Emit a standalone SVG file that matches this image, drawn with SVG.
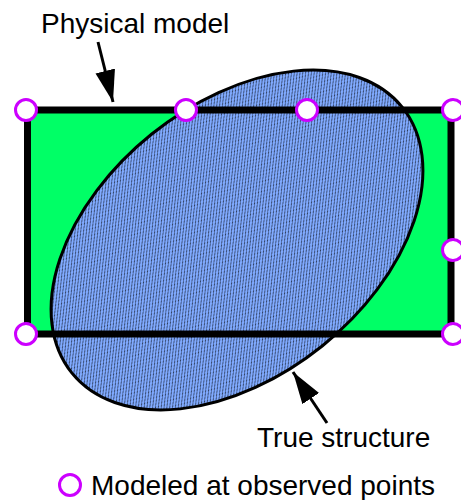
<svg xmlns="http://www.w3.org/2000/svg" width="461" height="500" viewBox="0 0 461 500">
<style>
.lbl{font-family:"Liberation Sans",Arial,sans-serif;font-size:28px;fill:#000}
.pt{fill:#fff;stroke:#cc00ff;stroke-width:3}
.conn{stroke:#000;stroke-width:3;fill:none}
</style>
<defs>
<pattern id="hatch" width="4" height="4" patternUnits="userSpaceOnUse">
<rect width="4" height="4" fill="#80aaff"/>
<path d="M-4,4 L0,0 M0,4 L4,0 M4,4 L8,0" stroke="#000" stroke-width="0.65" fill="none"/>
</pattern>
<marker id="ah" markerUnits="userSpaceOnUse" markerWidth="34" markerHeight="22" refX="32" refY="10" orient="auto">
<path d="M0,0 L32,10 L0,20 Z" fill="#000"/>
</marker>
</defs>
<g id="physical-model-fill">
<rect x="27.5" y="110" width="423.5" height="224" fill="#00ff66"/>
</g>
<g id="true-structure">
<ellipse cx="237" cy="240" rx="212" ry="136" transform="rotate(-38.8 237 240)" fill="url(#hatch)" stroke="#000" stroke-width="3"/>
</g>
<g id="physical-model">
<rect x="27.5" y="110" width="423.5" height="224" fill="none" stroke="#000" stroke-width="7"/>
</g>
<g id="observed-points">
<circle class="pt" cx="26" cy="110" r="10.5"/>
<circle class="pt" cx="186" cy="110" r="10.5"/>
<circle class="pt" cx="307" cy="110" r="10.5"/>
<circle class="pt" cx="453" cy="110" r="10.5"/>
<circle class="pt" cx="453" cy="250" r="10.5"/>
<circle class="pt" cx="26" cy="334" r="10.5"/>
<circle class="pt" cx="453" cy="334" r="10.5"/>
</g>
<g id="connectors">
<line class="conn" x1="98" y1="42" x2="113" y2="102" marker-end="url(#ah)"/>
<line class="conn" x1="327" y1="423" x2="293" y2="372" marker-end="url(#ah)"/>
</g>
<g id="label-physical">
<text class="lbl" x="41" y="33">Physical model</text>
</g>
<g id="label-true">
<text class="lbl" x="257" y="447">True structure</text>
</g>
<g id="legend">
<circle class="pt" cx="70" cy="485" r="10.5"/>
<text class="lbl" x="91" y="495">Modeled at observed points</text>
</g>
</svg>
